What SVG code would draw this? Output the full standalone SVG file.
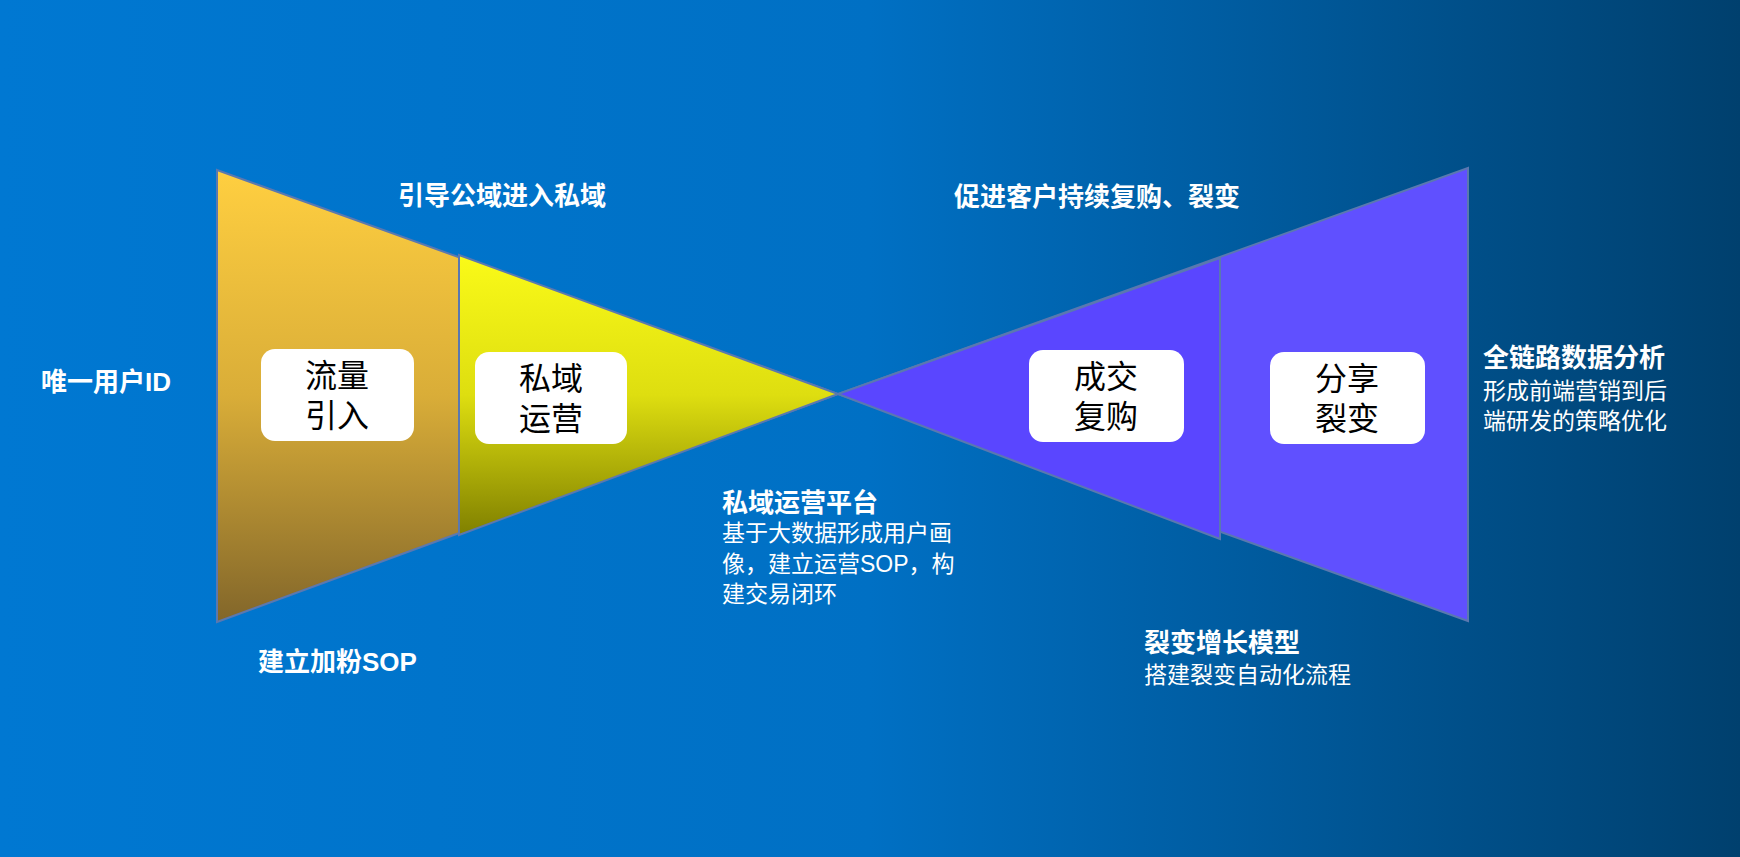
<svg xmlns="http://www.w3.org/2000/svg" width="1740" height="857" viewBox="0 0 1740 857">
<defs>
<linearGradient id="bg" x1="0" y1="0" x2="1" y2="0"><stop offset="0" stop-color="#0078d2"/><stop offset="0.5" stop-color="#0070c4"/><stop offset="1" stop-color="#00406e"/></linearGradient>
<linearGradient id="gold" x1="0" y1="0" x2="0" y2="1"><stop offset="0" stop-color="#ffcf40"/><stop offset="0.5" stop-color="#d9ad38"/><stop offset="1" stop-color="#82662a"/></linearGradient>
<linearGradient id="yel" x1="0" y1="0" x2="0" y2="1"><stop offset="0" stop-color="#fafa18"/><stop offset="0.5" stop-color="#dede10"/><stop offset="1" stop-color="#808000"/></linearGradient>
<style>
.t{font-family:"Liberation Sans","Noto Sans CJK SC",sans-serif;fill:#fff}
.b{font-weight:bold;font-size:26px}
.n{font-size:23px}
.bx{fill:#fff}
.bt{font-family:"Liberation Sans","Noto Sans CJK SC",sans-serif;font-size:32px;fill:#000;text-anchor:middle}
.edge{stroke:#5a78b0;stroke-width:2}
</style>
</defs>
<rect width="1740" height="857" fill="url(#bg)"/>
<g id="connectors">
<polygon class="edge" points="217,170 838,394 217,622" fill="url(#gold)"/>
<polygon class="edge" points="459,255 838,394 459,535" fill="url(#yel)"/>
<polygon class="edge" points="1468,168 838,394 1468,621" fill="#6050ff"/>
<polygon class="edge" points="1220,258 838,394 1220,539" fill="#5a46ff"/>
</g>
<g id="n1"><rect class="bx" x="261" y="349" width="153" height="92" rx="14"/><text class="bt" x="337" y="387">流量</text><text class="bt" x="337" y="427">引入</text></g>
<g id="n2"><rect class="bx" x="475" y="352" width="152" height="92" rx="14"/><text class="bt" x="551" y="390">私域</text><text class="bt" x="551" y="430">运营</text></g>
<g id="n3"><rect class="bx" x="1029" y="350" width="155" height="92" rx="14"/><text class="bt" x="1106" y="388">成交</text><text class="bt" x="1106" y="428">复购</text></g>
<g id="n4"><rect class="bx" x="1270" y="352" width="155" height="92" rx="14"/><text class="bt" x="1347" y="390">分享</text><text class="bt" x="1347" y="430">裂变</text></g>
<g id="labels">
<text class="t b" x="41" y="391">唯一用户ID</text>
<text class="t b" x="502" y="205" text-anchor="middle">引导公域进入私域</text>
<text class="t b" x="1097" y="206" text-anchor="middle">促进客户持续复购、裂变</text>
<text class="t b" x="258" y="671">建立加粉SOP</text>
<text class="t b" x="722" y="512">私域运营平台</text>
<text class="t n" x="722" y="541">基于大数据形成用户画</text>
<text class="t n" x="722" y="572">像，建立运营SOP，构</text>
<text class="t n" x="722" y="602">建交易闭环</text>
<text class="t b" x="1144" y="652">裂变增长模型</text>
<text class="t n" x="1144" y="683">搭建裂变自动化流程</text>
<text class="t b" x="1483" y="367">全链路数据分析</text>
<text class="t n" x="1483" y="399">形成前端营销到后</text>
<text class="t n" x="1483" y="429">端研发的策略优化</text>
</g>
</svg>
